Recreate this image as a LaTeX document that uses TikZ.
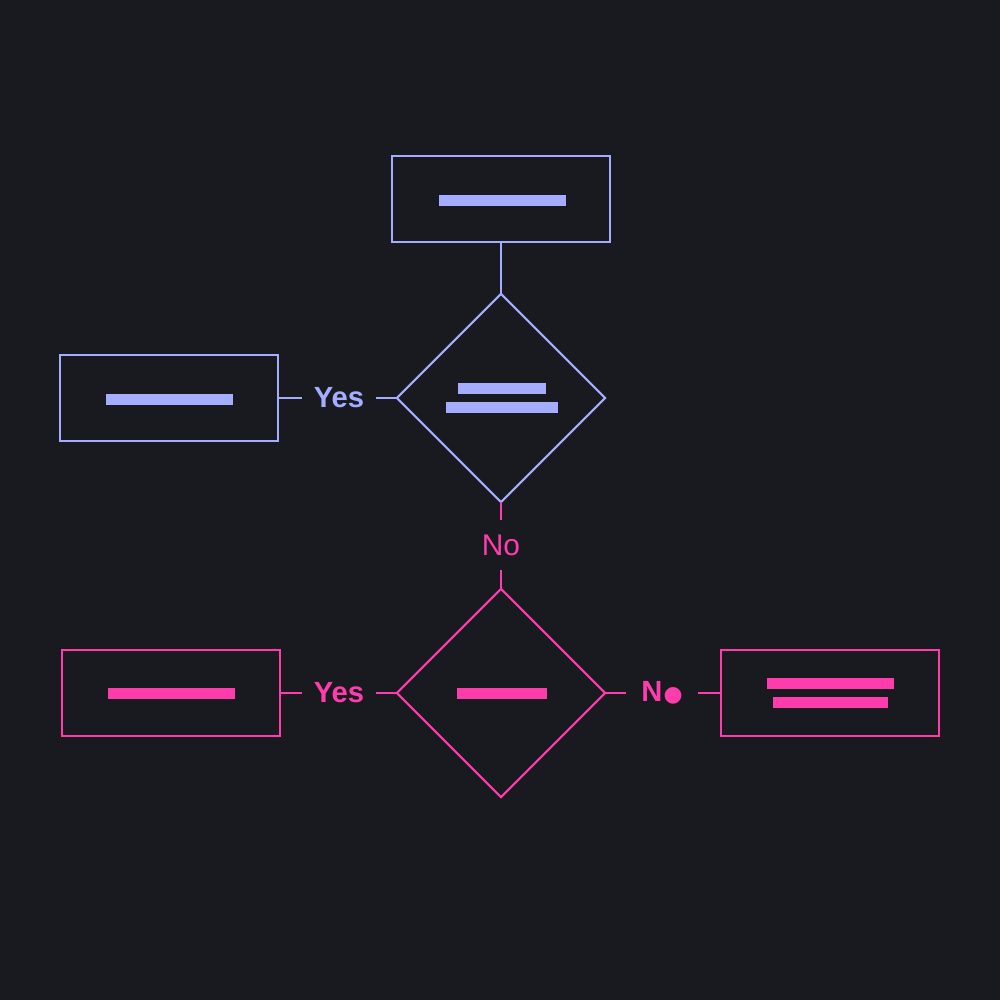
\documentclass[tikz,border=0pt]{standalone}
\usepackage{fontspec}
\setmainfont{Liberation Sans}
\newfontfamily\dotfont{DejaVu Sans}
\usetikzlibrary{shapes.geometric}

\definecolor{bg}{HTML}{191920}
\definecolor{lav}{HTML}{A4ADFF}
\definecolor{rose}{HTML}{FF3CAC}

\tikzset{
    box/.style={draw, rectangle, minimum width=2.18cm, minimum height=0.86cm, inner sep=0pt, outer sep=0pt, line width=0.6pt},
    choice/.style={draw, diamond, minimum width=2.08cm, minimum height=2.08cm, inner sep=0pt, outer sep=0pt, line width=0.6pt},
    answer/.style={inner sep=0pt, outer sep=0pt, font=\fontsize{8.3}{10}\selectfont\bfseries},
    link/.style={line width=0.6pt},
}

\begin{document}
\begin{tikzpicture}[x=0.01cm, y=-0.01cm]
        \fill[bg] (0,0) rectangle (1000,1000);
        \useasboundingbox (0,0) rectangle (1000,1000);

        % first question
        \node[box, lav] (start) at (501,199) {};
        \node[choice, lav] (check1) at (501,398) {};
        \node[box, lav] (left1) at (169,398) {};
        \node[answer, lav, minimum width=0.74cm] (yes1) at (339,398) {Yes};
        \node[inner sep=0pt, outer sep=0pt, minimum height=0.49cm, rose, font=\fontsize{8.5}{10}\selectfont] (no1) at (501,545) {No};

        % second question
        \node[choice, rose] (check2) at (501,693) {};
        \node[box, rose] (left2) at (171,693) {};
        \node[answer, rose, minimum width=0.74cm] (yes2) at (339,693) {Yes};
        \node[answer, rose, minimum width=0.72cm] (no2) at (662,693) {N\kern0.3pt{\dotfont\fontsize{6.2}{8}\selectfont ●}};
        \node[box, rose] (right2) at (830,693) {};

        \draw[link, lav] (start) -- (check1);
        \draw[link, lav] (left1) -- (yes1) -- (check1);
        \draw[link, rose] (check1) -- (no1) -- (check2);
        \draw[link, rose] (left2) -- (yes2) -- (check2);
        \draw[link, rose] (check2) -- (no2) -- (right2);

        % text placeholders
        \fill[lav] (439,195) rectangle (566,206);
        \fill[lav] (458,383) rectangle (546,394);
        \fill[lav] (446,402) rectangle (558,413);
        \fill[lav] (106,394) rectangle (233,405);
        \fill[rose] (457,688) rectangle (547,699);
        \fill[rose] (108,688) rectangle (235,699);
        \fill[rose] (767,678) rectangle (894,689);
        \fill[rose] (773,697) rectangle (888,708);
    \end{tikzpicture}
\end{document}
